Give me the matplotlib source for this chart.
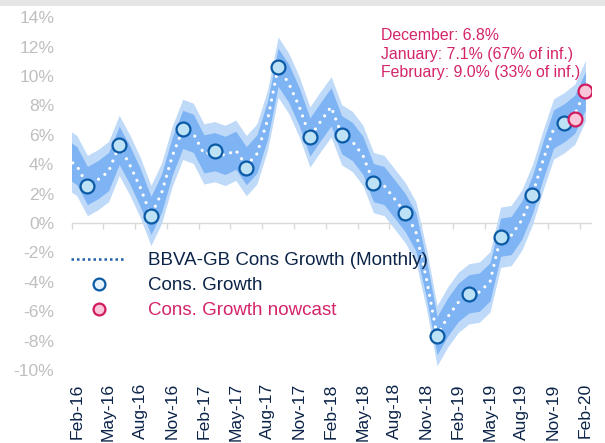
import numpy as np
import pandas as pd
import matplotlib
matplotlib.use('Agg')
import matplotlib.pyplot as plt
from matplotlib.lines import Line2D
from matplotlib.patches import Rectangle

plt.rcParams['font.family'] = ['Liberation Sans', 'DejaVu Sans']

# ---------------- data ----------------
months = pd.date_range('2016-01-01', '2020-02-01', freq='MS')
month_labels = [d.strftime('%b-%y') for d in months]

# BBVA-GB monthly consumption growth (%), Jan-16 .. Feb-20
monthly_growth = [
    4.4, 3.9, 2.55, 2.95, 3.5, 5.28, 3.95, 2.4, 0.51, 2.03, 4.53, 6.37,      # 2016
    6.1, 4.7, 4.85, 4.6, 4.95, 3.9, 4.7, 7.0, 10.6, 9.5, 7.9, 5.85,          # 2017
    6.9, 7.9, 6.0, 5.55, 4.6, 2.75, 2.55, 1.63, 0.7, -0.6, -3.8, -7.66,      # 2018
    -6.4, -5.4, -4.82, -4.7, -4.0, -0.97, -0.85, 0.2, 1.92, 4.26, 6.4, 6.82, # 2019
    7.4, 9.0,                                                                # 2020
]
inner_band = 1.3
outer_band = 2.05

quarter_months = ['Mar-16', 'Jun-16', 'Sep-16', 'Dec-16', 'Mar-17', 'Jun-17',
                  'Sep-17', 'Dec-17', 'Mar-18', 'Jun-18', 'Sep-18', 'Dec-18',
                  'Mar-19', 'Jun-19', 'Sep-19', 'Dec-19']
cons_growth = [2.55, 5.28, 0.51, 6.37, 4.87, 3.73, 10.61, 5.85, 6.0, 2.71,
               0.69, -7.66, -4.82, -0.97, 1.92, 6.8]

nowcast_months = ['Jan-20', 'Feb-20']
nowcast = [7.1, 9.0]
nowcast_share = [67, 33]

tick_labels = month_labels[1::3]
y_ticks = list(range(-10, 15, 2))

# ---------------- colours ----------------
outer_col = '#bfdaf9'
inner_col = '#7fb4f4'
mk_face = '#bde2f6'
mk_edge = '#0a5aa5'
pk_face = '#f8c8da'
pk_edge = '#d21a5e'
pink_txt = '#d4246a'
navy = '#0c2448'
grey = '#bfbfbf'

# ---------------- figure ----------------
W, H = 605, 443
fig = plt.figure(figsize=(W / 100, H / 100), dpi=100)
ax = fig.add_axes([71.5 / W, 1 - 370 / H, (590.7 - 71.5) / W, (370 - 17.2) / H])

pos = {m: i - 1 for i, m in enumerate(month_labels)}   # Feb-16 -> 0
x = np.array([pos[m] for m in month_labels], dtype=float)
y = np.array(monthly_growth)

ax.fill_between(x, y - outer_band, y + outer_band, color=outer_col, lw=0, zorder=1)
ax.fill_between(x, y - inner_band, y + inner_band, color=inner_col, lw=0, zorder=2)
ax.plot(x, y, color='white', lw=2.3, ls=(0, (0.01, 2.5)),
        dash_capstyle='round', zorder=3)

qx = [pos[m] for m in quarter_months]
ax.plot(qx, cons_growth, ls='none', marker='o', ms=10, mfc=mk_face,
        mec=mk_edge, mew=1.6, zorder=4)
nx = [pos[m] for m in nowcast_months]
ax.plot(nx, nowcast, ls='none', marker='o', ms=10, mfc=pk_face,
        mec=pk_edge, mew=1.6, zorder=5)

ymin, ymax = -10, 14
ax.set_xlim(-0.5, len(months) - 1.5)
ax.set_ylim(ymin, ymax)

for s in ax.spines.values():
    s.set_visible(False)

ax.set_yticks(y_ticks)
ax.set_yticklabels([f'{v}%' for v in y_ticks])
ax.tick_params(axis='y', length=0, pad=12.5, labelsize=12.6, labelcolor=grey)

ax.set_xticks([pos[m] for m in tick_labels])
ax.set_xticklabels(tick_labels, rotation=90)
ax.tick_params(axis='x', length=0, pad=9.5, labelsize=12.6, labelcolor=navy)

# zero line with quarterly tick marks
sec = ax.secondary_xaxis((0 - ymin) / (ymax - ymin))
sec.set_xticks(np.arange(-0.5, len(months) - 2, 3))
sec.tick_params(axis='x', length=4, width=1, color='#d9d9d9', direction='out',
                labelbottom=False, labeltop=False)
for s in sec.spines.values():
    s.set_color('#d9d9d9')
    s.set_linewidth(1)
sec.set_zorder(0)

# legend
handles = [
    Line2D([], [], color='#1f5fae', lw=1.8, ls=(0, (1, 1.2))),
    Line2D([], [], ls='none', marker='o', ms=8.5, mfc='#e6f3fc', mec=mk_edge, mew=1.6),
    Line2D([], [], ls='none', marker='o', ms=8.5, mfc=pk_face, mec=pk_edge, mew=1.6),
]
labels = ['BBVA-GB Cons Growth (Monthly)', 'Cons. Growth', 'Cons. Growth nowcast']
leg = ax.legend(handles, labels, loc='upper left',
                bbox_to_anchor=(71 / W, 1 - 252 / H), bbox_transform=fig.transFigure,
                frameon=False, fontsize=13.5, handlelength=2.95, handletextpad=1.15,
                borderaxespad=0, borderpad=0, labelspacing=0.42)
for t, c in zip(leg.get_texts(), [navy, navy, pink_txt]):
    t.set_color(c)

# annotation
names = ['December', 'January', 'February']
vals = [cons_growth[-1]] + nowcast
ann = [f'{names[0]}: {vals[0]:.1f}%'] + [
    f'{n}: {v:.1f}% ({s}% of inf.)' for n, v, s in zip(names[1:], vals[1:], nowcast_share)]
for k, line in enumerate(ann):
    fig.text(381 / W, 1 - (35 + 19 * k) / H, line, color=pink_txt,
             fontsize=11.45, ha='left', va='center')

# top grey strip
fig.add_artist(Rectangle((0, 1 - 6 / H), 1, 6 / H, transform=fig.transFigure,
                         color='#e6e6e6', lw=0))

fig.savefig('out.png', dpi=100)
